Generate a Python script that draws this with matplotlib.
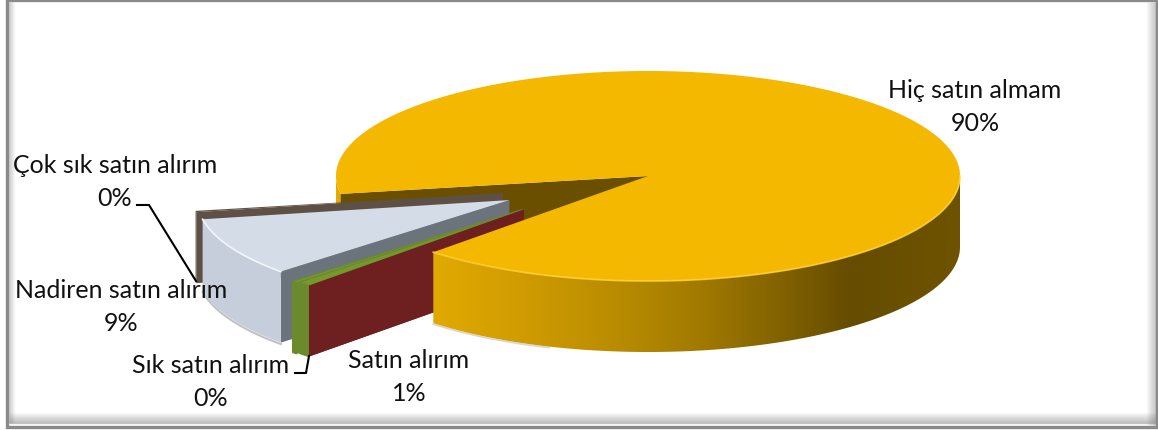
import numpy as np
import matplotlib
matplotlib.use("Agg")
import matplotlib.pyplot as plt
from matplotlib.patches import Polygon, Rectangle
from matplotlib.colors import to_rgb

categories = ["Hiç satın almam", "Satın alırım", "Sık satın alırım", "Nadiren satın alırım", "Çok sık satın alırım"]
values = [89.8, 0.7, 0.3, 9.0, 0.2]

# layout / style
W, H = 1158, 431
CX, CY, RX, RY, DEPTH = 648, 177, 312, 105, 71
START = 170.2
explode_ang = [0, 141.4, 141.5, 152.7, 160.8]
explode_mag = [0, 0.51, 0.52, 0.50, 0.492]
top_col = ["#f4b800", "#78982f", "#78982f", "#d4dce8", "#5f5045"]
rim_col = ["#e0a900", "#6b8a2c", "#6b8a2c", "#c6cedc", "#5f5045"]
face_col = ["#6a4f00", "#6e1f1f", "#6b8a2c", "#6b737c", "#5f5045"]
label_xy = [(975, 91), (409, 361), (211, 366), (121, 291), (115, 166)]
leaders = {"Sık satın alırım": [(295, 374), (306, 374), (309, 357)],
           "Çok sık satın alırım": [(137, 206), (149, 206), (196, 282)]}
grad_x = [432, 520, 600, 700, 800, 850, 960]
grad_c = ["#e2aa00", "#d09c00", "#bd8f00", "#a27a00", "#7a5c00", "#664c00", "#6e5300"]

plt.rcParams["font.family"] = ["Lato", "DejaVu Sans"]
fig = plt.figure(figsize=(W / 100, H / 100), dpi=100)
ax = fig.add_axes([0, 0, 1, 1])
ax.set_xlim(0, W)
ax.set_ylim(H, 0)
ax.axis("off")

# frame
for i in range(11):
    a = 0.045 * (11 - i) / 1.6
    ax.plot([1157 - i] * 2, [3, 426], color="#555555", alpha=min(a, 1), lw=1, solid_capstyle="butt", zorder=1)
    ax.plot([9, 1157], [424 - i] * 2, color="#555555", alpha=min(a, 1), lw=1, solid_capstyle="butt", zorder=1)
for i in range(6):
    ax.plot([9 + i] * 2, [3, 424], color="#777777", alpha=0.28 * (6 - i) / 6, lw=1, solid_capstyle="butt", zorder=1)
ax.add_patch(Rectangle((7, 1), 1149.5, 427, fill=False, ec="#8a8a8a", lw=2.4, zorder=1))


def pt(ang, ox, oy, r=1.0):
    t = np.radians(ang)
    return ox + r * RX * np.cos(t), oy + r * RY * np.sin(t)


def arc(a0, a1, ox, oy):
    n = max(int(abs(a1 - a0) * 2) + 2, 3)
    return [pt(a, ox, oy) for a in np.linspace(a0, a1, n)]


def gold(x):
    c = np.array([to_rgb(g) for g in grad_c])
    return np.stack([np.interp(x, grad_x, c[:, k]) for k in range(3)], axis=-1)


def gold_rim(a0, a1, z):
    top = arc(a0, a1, CX, CY)
    bot = [(x, y + DEPTH) for x, y in top][::-1]
    poly = Polygon(top + bot, fc="none", ec="none", zorder=z)
    ax.add_patch(poly)
    xs = np.arange(CX - RX - 2, CX + RX + 3)
    im = ax.imshow(gold(xs)[None, :, :], extent=(xs[0], xs[-1], CY + RY + DEPTH + 5, CY - 10),
                   aspect="auto", zorder=z, interpolation="bilinear")
    im.set_clip_path(poly)
    ax.set_xlim(0, W)
    ax.set_ylim(H, 0)


fracs = np.array(values) / sum(values) * 360
edges = START + np.concatenate([[0], np.cumsum(fracs)])

# inner cut and left rim of the large slice, behind the pulled-out slices
a_main0, a_main1 = edges[0], edges[1]
p = pt(a_main0, CX, CY)
ax.add_patch(Polygon([(CX, CY), p, (p[0], p[1] + DEPTH), (CX, CY + DEPTH)], fc=face_col[0], ec="none", zorder=2))
gold_rim(a_main0 - 0.0, 180.5, 1.9)

# pulled-out slices: draw far to near
z = 3
origins = {}
for i in [4, 3, 2, 1]:
    a0, a1 = edges[i], edges[i + 1]
    ox = CX + explode_mag[i] * RX * np.cos(np.radians(explode_ang[i]))
    oy = CY + explode_mag[i] * RY * np.sin(np.radians(explode_ang[i]))
    origins[i] = (ox, oy)
    q = pt(a0, ox, oy)
    ax.add_patch(Polygon([(ox, oy), q, (q[0], q[1] + DEPTH), (ox, oy + DEPTH)], fc=face_col[i], ec="none", zorder=z))
    top = arc(a0, a1, ox, oy)
    bot = [(x, y + DEPTH) for x, y in top][::-1]
    seam = rim_col[i] if i in (1, 2) else "none"
    ax.add_patch(Polygon(top + bot, fc=rim_col[i], ec=seam, lw=0.8, zorder=z + 0.1))
    if i == 3:
        ax.plot([b[0] for b in bot], [b[1] + 1.5 for b in bot], color="#999999", lw=1.5, alpha=0.6, zorder=z - 0.5)
    ax.add_patch(Polygon([(ox, oy)] + top, fc=top_col[i], ec=seam, lw=0.8, zorder=z + 0.2))
    if i == 3:
        ax.plot([t[0] for t in top], [t[1] for t in top], color="#f3f6fa", lw=1.2, zorder=z + 0.3)
    z += 1

# maroon cut face of the "Satın alırım" slice stays in front of the green slice
ox, oy = origins[1]
q = pt(edges[1], ox, oy)
ax.add_patch(Polygon([(ox, oy), q, (q[0], q[1] + DEPTH), (ox, oy + DEPTH)], fc=face_col[1], ec="none", zorder=z))
z += 1

# large slice: front rim and top in front of the cut faces
gold_rim(360, a_main1, z)
z += 1
top = arc(a_main0, a_main1, CX, CY)
ax.add_patch(Polygon([(CX, CY)] + top, fc=top_col[0], ec="none", zorder=z))
front_top = arc(a_main1, 360, CX, CY)
ax.plot([t[0] for t in front_top], [t[1] for t in front_top], color="#ffd23f", lw=1.3, alpha=0.8, zorder=z + 0.1)
front_bot = [(x, y + DEPTH + 1) for x, y in arc(a_main1, a_main1 - 25, CX, CY)]
ax.plot([t[0] for t in front_bot], [t[1] for t in front_bot], color="#999999", lw=1.2, alpha=0.4, zorder=z - 1.5)

# labels
for name, v, (x, y) in zip(categories, values, label_xy):
    ax.text(x, y, name, ha="center", va="center", fontsize=18, color="#111111", zorder=20)
    ax.text(x, y + 32.5, f"{round(v)}%", ha="center", va="center", fontsize=18, color="#111111", zorder=20)
for pts in leaders.values():
    ax.plot([c[0] for c in pts], [c[1] for c in pts], color="black", lw=1.5, zorder=19)

fig.savefig("out.png", dpi=100, facecolor="white")
